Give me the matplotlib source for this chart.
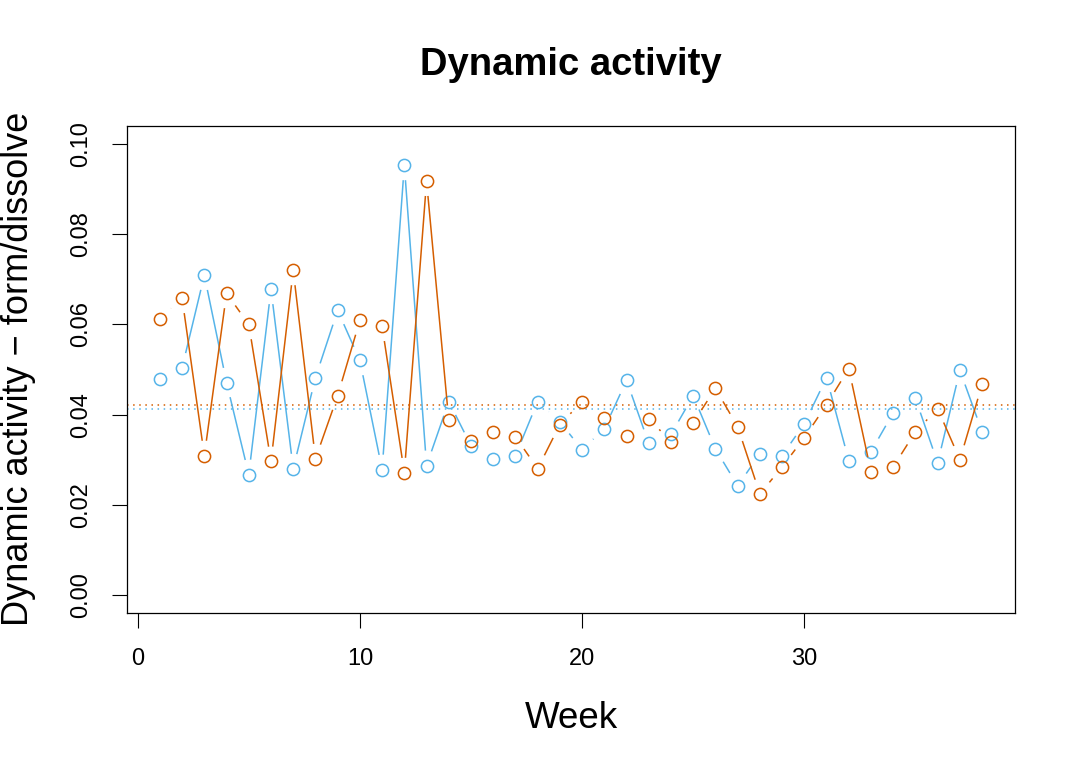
import numpy as np
import matplotlib
matplotlib.use('Agg')
import matplotlib.pyplot as plt
from matplotlib.collections import LineCollection

plt.rcParams['font.family'] = ['Liberation Sans', 'DejaVu Sans']

weeks = list(range(1, 39))
blue_vals = [0.0478, 0.0504, 0.0709, 0.0471, 0.0267, 0.0678, 0.0280, 0.0482, 0.0631, 0.0520,
             0.0278, 0.0953, 0.0287, 0.0429, 0.0331, 0.0302, 0.0309, 0.0429, 0.0384, 0.0322,
             0.0369, 0.0476, 0.0336, 0.0356, 0.0442, 0.0324, 0.0242, 0.0313, 0.0309, 0.0380,
             0.0482, 0.0298, 0.0318, 0.0404, 0.0436, 0.0293, 0.0498, 0.0362]
orange_vals = [0.0613, 0.0658, 0.0309, 0.0669, 0.0600, 0.0296, 0.0720, 0.0302, 0.0442, 0.0609,
               0.0596, 0.0271, 0.0918, 0.0387, 0.0342, 0.0362, 0.0351, 0.0280, 0.0378, 0.0429,
               0.0393, 0.0353, 0.0391, 0.0340, 0.0382, 0.0458, 0.0373, 0.0224, 0.0284, 0.0349,
               0.0422, 0.0502, 0.0273, 0.0284, 0.0362, 0.0413, 0.0300, 0.0467]
blue_mean = 0.0413
orange_mean = 0.0422
xticks = [0, 10, 20, 30]
yticks = [0.00, 0.02, 0.04, 0.06, 0.08, 0.10]

BLUE = '#56B4E9'
ORANGE = '#D55E00'

fig = plt.figure(figsize=(10.8, 7.71), dpi=100)
ax = fig.add_axes([127/1080, 1 - 613/771, (1015-127)/1080, (613-126)/771])
ax.set_xlim(-0.48, 39.48)
ax.set_ylim(-0.004, 0.104)


def gapped_lines(ax, x, y, color, gap=15):
    # R type="b": line segments stop short of the points
    pts = ax.transData.transform(np.column_stack([x, y]))
    inv = ax.transData.inverted()
    segs = []
    for p0, p1 in zip(pts[:-1], pts[1:]):
        d = p1 - p0
        L = np.hypot(d[0], d[1])
        if L <= 2 * gap:
            continue
        u = d / L
        segs.append(inv.transform([p0 + u * gap, p1 - u * gap]))
    ax.add_collection(LineCollection(segs, colors=color, linewidths=1.1))


ax.axhline(orange_mean, color=ORANGE, lw=1.1, linestyle=(0, (1, 3)))
ax.axhline(blue_mean, color=BLUE, lw=1.1, linestyle=(0, (1, 3)))

for vals, col in [(blue_vals, BLUE), (orange_vals, ORANGE)]:
    gapped_lines(ax, weeks, vals, col)
    ax.plot(weeks, vals, 'o', mfc='none', mec=col, ms=8.8, mew=1.1)

ax.set_xticks(xticks)
ax.set_xticklabels([str(t) for t in xticks])
ax.set_yticks(yticks)
ax.set_yticklabels(['%.2f' % t for t in yticks], rotation=90, va='center')
ax.tick_params(direction='out', length=11, width=0.8, labelsize=17, pad=14)
for s in ax.spines.values():
    s.set_linewidth(0.9)
    s.set_color('black')

fig.text(571/1080, 1 - 65/771, 'Dynamic activity', ha='center', va='center',
         fontsize=27.5, fontweight='bold')
fig.text(571/1080, 1 - 719/771, 'Week', ha='center', va='center', fontsize=26.5)
fig.text(19/1080, 1 - 369/771, 'Dynamic activity \u2212 form/dissolve', ha='center',
         va='center', rotation=90, fontsize=26)

fig.savefig('out.png', dpi=100)
